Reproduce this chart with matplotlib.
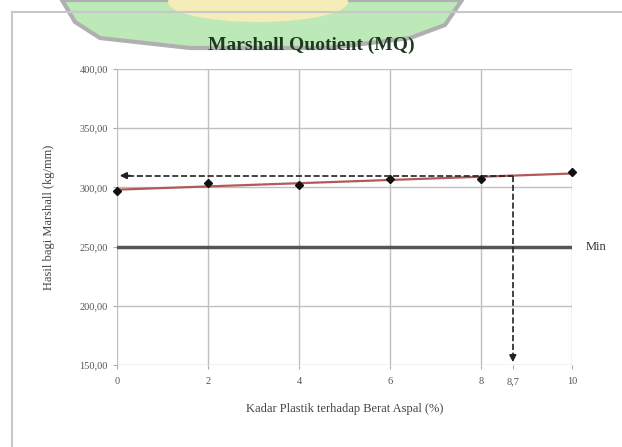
import numpy as np
import matplotlib.pyplot as plt
from matplotlib.patches import Polygon, Ellipse

# kadar plastik (%) dan nilai Marshall Quotient (kg/mm)
kadar = [0, 2, 4, 6, 8, 10]
mq = [297.0, 303.5, 302.0, 307.0, 307.0, 313.0]
mq_min = 250.0
kadar_opt = 8.7

x_ticks = [0, 2, 4, 6, 8, 8.7, 10]
x_ticklabels = ['0', '2', '4', '6', '8', '8,7', '10']
y_ticks = [150, 200, 250, 300, 350, 400]

plt.rcParams['font.family'] = ['Liberation Serif', 'DejaVu Serif']

fig = plt.figure(figsize=(6.22, 4.47), dpi=100)

# bingkai luar
fig.add_artist(plt.Line2D([12/622, 12/622], [0, 1 - 12/447], color='#c8c8c8', lw=1.5))
fig.add_artist(plt.Line2D([12/622, 1], [1 - 12/447, 1 - 12/447], color='#c8c8c8', lw=1.5))

# logo di belakang judul
band = [(62, 0), (462, 0), (445, 25), (410, 38), (330, 48), (190, 48), (100, 38), (75, 22)]
fig.add_artist(Polygon([(px/622, 1 - py/447) for px, py in band], closed=True,
                       facecolor='#bde8b8', edgecolor='#b0b0b0', lw=3, zorder=0))
fig.add_artist(Ellipse((258/622, 1 - 2/447), 180/622, 40/447,
                       facecolor='#f5ecb8', edgecolor='none', zorder=0))

ax = fig.add_axes([117/622, 1 - 365/447, 455/622, 296/447])

ax.set_xlim(0, 10)
ax.set_ylim(150, 400)
ax.set_xticks(x_ticks)
ax.set_xticklabels(x_ticklabels)
ax.set_yticks(y_ticks)
ax.set_yticklabels([f'{v:.2f}'.replace('.', ',') for v in y_ticks])
ax.tick_params(labelsize=7.5, colors='#555555', length=3, color='#aaaaaa')
ax.tick_params(axis='x', pad=6)

for gx in [0, 2, 4, 6, 8, 10]:
    ax.axvline(gx, color='#c0c0c0', lw=1, zorder=1)
for gy in y_ticks:
    ax.axhline(gy, color='#c0c0c0', lw=1, zorder=1)
for s in ax.spines.values():
    s.set_visible(False)

# garis batas minimum
ax.plot([0, 10], [mq_min, mq_min], color='#555555', lw=2.5, zorder=2)
ax.text(10.3, mq_min, 'Min', fontsize=9, va='center', ha='left', color='#333333')

# trendline linear
coef = np.polyfit(kadar, mq, 1)
xt = np.array([0, 10])
ax.plot(xt, np.polyval(coef, xt), color='#b25a5a', lw=1.6, zorder=3)
ax.plot(kadar, mq, 'D', color='#111111', ms=4, zorder=4, clip_on=False)

# garis bantu kadar optimum
y_opt = np.polyval(coef, kadar_opt)
ax.plot([0.25, kadar_opt], [y_opt, y_opt], '--', color='#222222', lw=1.2, zorder=5)
ax.plot([kadar_opt, kadar_opt], [y_opt, 155], '--', color='#222222', lw=1.2, zorder=5)
ax.annotate('', xy=(0, y_opt), xytext=(0.35, y_opt),
            arrowprops=dict(arrowstyle='-|>', color='#222222', lw=1.2), zorder=6)
ax.annotate('', xy=(kadar_opt, 150), xytext=(kadar_opt, 158),
            arrowprops=dict(arrowstyle='-|>', color='#222222', lw=1.2), zorder=6)

fig.text(0.5, 1 - 45/447, 'Marshall Quotient (MQ)', ha='center', va='center',
         fontsize=14, fontweight='bold', color='#1e3a1e')
ax.set_xlabel('Kadar Plastik terhadap Berat Aspal (%)', fontsize=9, color='#444444', labelpad=12)
ax.set_ylabel('Hasil bagi Marshall (kg/mm)', fontsize=9, color='#444444', labelpad=18)

fig.savefig('out.png', dpi=100)
